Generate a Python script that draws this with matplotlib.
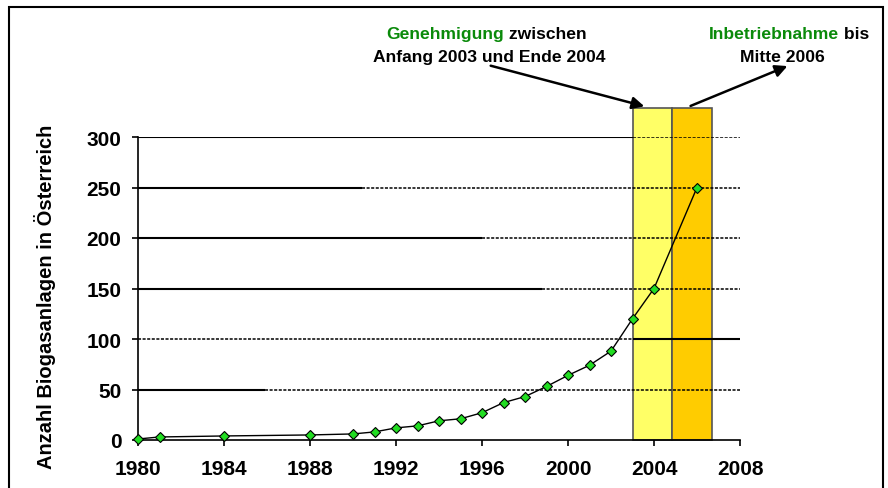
import matplotlib.pyplot as plt
from matplotlib.patches import Rectangle

plt.rcParams['font.family'] = ['Liberation Sans', 'DejaVu Sans']
plt.rcParams['font.weight'] = 'bold'

# Anzahl Biogasanlagen in Österreich
jahre = [1980, 1981, 1984, 1988, 1990, 1991, 1992, 1993, 1994, 1995,
         1996, 1997, 1998, 1999, 2000, 2001, 2002, 2003, 2004, 2006]
anlagen = [1, 3, 4, 5, 6, 8, 12, 14, 19, 21,
           27, 37, 43, 53, 64, 74, 88, 120, 150, 250]

# Zeiträume: Genehmigung und Inbetriebnahme
perioden_start = [2003.0, 2004.85]
perioden_ende = [2004.85, 2006.7]
perioden_hoehe = [329, 329]
perioden_farbe = ['#FFFF66', '#FFCC00']

W, H = 888, 489
fig = plt.figure(figsize=(W / 100, H / 100), dpi=100)
ax = fig.add_axes([138 / W, 1 - 441 / H, 602 / W, 303 / H])

for s, e, h, c in zip(perioden_start, perioden_ende, perioden_hoehe, perioden_farbe):
    ax.bar(s, h, width=e - s, align='edge', color=c, edgecolor='#555555',
           linewidth=1.2, zorder=1, clip_on=False)

# Gitterlinien (teils durchgezogen, teils gepunktet wie im Original)
punkt = (0, (2, 1))
gitter = [(50, 1985.9), (150, 1998.8), (200, 1996.0), (250, 1990.4), (300, 2003.0)]
for y, bis in gitter:
    ax.hlines(y, 1980, bis, colors='black', lw=1.5, zorder=2)
    ax.hlines(y, bis, 2008, colors='black', lw=1.1, linestyles=[punkt], zorder=2)
ax.hlines(100, 1980, 2003.0, colors='black', lw=1.1, linestyles=[punkt], zorder=2)
ax.hlines(100, 2003.0, 2008, colors='black', lw=1.5, zorder=2)

ax.plot(jahre, anlagen, color='black', lw=1, marker='D', markersize=5,
        markerfacecolor='#22DD22', markeredgecolor='black', markeredgewidth=0.8,
        zorder=3, clip_on=False)

ax.set_xlim(1980, 2008)
ax.set_ylim(0, 300)
ax.set_xticks(range(1980, 2009, 4))
ax.set_yticks(range(0, 301, 50))
ax.tick_params(axis='both', direction='out', length=4, width=1.2, labelsize=15)
ax.tick_params(axis='x', pad=10)
ax.tick_params(axis='y', pad=8)
for lbl in ax.get_xticklabels() + ax.get_yticklabels():
    lbl.set_fontweight('bold')
ax.spines['top'].set_visible(False)
ax.spines['right'].set_visible(False)
ax.spines['left'].set_linewidth(1.2)
ax.spines['bottom'].set_linewidth(1.2)

fig.text(45 / W, 1 - 297 / H, 'Anzahl Biogasanlagen in Österreich', rotation=90,
         ha='center', va='center', fontsize=14.5, fontweight='bold')

# Beschriftungen oben
gruen = '#0A8A0A'
fs = 12.6
t1 = fig.text(386 / W, 1 - 39 / H, 'Genehmigung', color=gruen, fontsize=fs,
              fontweight='bold', va='baseline')
fig.canvas.draw()
ax.annotate(' zwischen', xy=(1, 0), xycoords=t1, va='bottom', fontsize=fs,
            fontweight='bold', color='black')
fig.text(373 / W, 1 - 62 / H, 'Anfang 2003 und Ende 2004', fontsize=fs,
         fontweight='bold', va='baseline')
t2 = fig.text(709 / W, 1 - 39 / H, 'Inbetriebnahme', color=gruen, fontsize=fs,
              fontweight='bold', va='baseline')
ax.annotate(' bis', xy=(1, 0), xycoords=t2, va='bottom', fontsize=fs,
            fontweight='bold', color='black')
fig.text(740 / W, 1 - 62 / H, 'Mitte 2006', fontsize=fs, fontweight='bold',
         va='baseline')

# Pfeile
pfeil = dict(arrowstyle='-|>', color='black', lw=1.8, mutation_scale=18)
ax.annotate('', xy=(647 / W, 1 - 108 / H), xytext=(488 / W, 1 - 66 / H),
            xycoords='figure fraction', textcoords='figure fraction', arrowprops=pfeil)
ax.annotate('', xy=(790 / W, 1 - 66 / H), xytext=(688 / W, 1 - 108 / H),
            xycoords='figure fraction', textcoords='figure fraction', arrowprops=pfeil)

# Rahmen
fig.patches.append(Rectangle((9 / W, -0.1), 874 / W, 1.1 - 8 / H, transform=fig.transFigure,
                             fill=False, edgecolor='black', lw=1.5))

fig.savefig('out.png', dpi=100)
